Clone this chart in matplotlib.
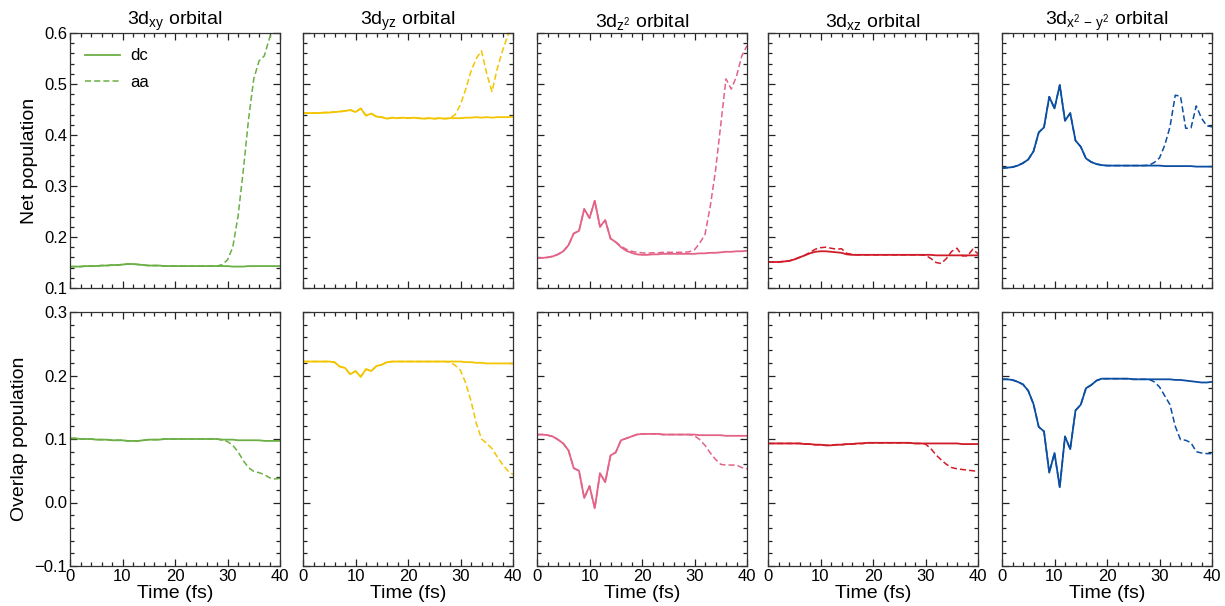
import numpy as np
import matplotlib
matplotlib.use("Agg")
import matplotlib.pyplot as plt
from matplotlib.ticker import MultipleLocator

plt.rcParams['font.family'] = ['Liberation Sans', 'DejaVu Sans']
plt.rcParams['mathtext.fontset'] = 'custom'
plt.rcParams['mathtext.rm'] = 'Liberation Sans'
plt.rcParams['mathtext.it'] = 'Liberation Sans'
plt.rcParams['mathtext.default'] = 'regular'

time_fs = list(range(0, 41))

titles = [r'3d$_{xy}$ orbital', r'3d$_{yz}$ orbital', r'3d$_{z^2}$ orbital',
          r'3d$_{xz}$ orbital', r'3d$_{x^2\,-\,y^2}$ orbital']
colors = ['#6BAF45', '#F2C500', '#E36387', '#D01C28', '#0B4EA2']

# ---- Net population (top row) ----
net_xy_dc = [0.142, 0.142, 0.142, 0.143, 0.143, 0.143, 0.144, 0.144, 0.145, 0.145,
             0.146, 0.147, 0.147, 0.146, 0.145, 0.144, 0.144, 0.144, 0.143, 0.143,
             0.143, 0.143, 0.143, 0.143, 0.143, 0.143, 0.143, 0.143, 0.143, 0.143,
             0.143, 0.142, 0.142, 0.142, 0.143, 0.143, 0.143, 0.143, 0.143, 0.143, 0.143]
net_xy_aa = [0.142, 0.142, 0.142, 0.143, 0.143, 0.143, 0.144, 0.144, 0.145, 0.145,
             0.146, 0.147, 0.147, 0.146, 0.145, 0.144, 0.144, 0.144, 0.143, 0.143,
             0.143, 0.143, 0.143, 0.143, 0.143, 0.143, 0.143, 0.143, 0.143, 0.146,
             0.155, 0.180, 0.240, 0.330, 0.430, 0.510, 0.545, 0.555, 0.590, 0.620, 0.650]

net_yz_dc = [0.443, 0.443, 0.443, 0.443, 0.444, 0.444, 0.445, 0.446, 0.447, 0.449,
             0.445, 0.452, 0.438, 0.442, 0.436, 0.435, 0.432, 0.434, 0.433, 0.434,
             0.433, 0.434, 0.433, 0.432, 0.433, 0.432, 0.433, 0.432, 0.433, 0.433,
             0.433, 0.434, 0.434, 0.435, 0.434, 0.435, 0.434, 0.435, 0.435, 0.435, 0.436]
net_yz_aa = [0.443, 0.443, 0.443, 0.443, 0.444, 0.444, 0.445, 0.446, 0.447, 0.449,
             0.445, 0.452, 0.438, 0.442, 0.436, 0.435, 0.432, 0.434, 0.433, 0.434,
             0.433, 0.434, 0.433, 0.432, 0.433, 0.432, 0.433, 0.432, 0.433, 0.440,
             0.460, 0.490, 0.525, 0.550, 0.565, 0.520, 0.485, 0.530, 0.565, 0.595, 0.610]

net_z2_dc = [0.159, 0.159, 0.160, 0.162, 0.166, 0.172, 0.184, 0.207, 0.212, 0.255,
             0.237, 0.271, 0.220, 0.233, 0.197, 0.190, 0.180, 0.173, 0.169, 0.166,
             0.165, 0.165, 0.166, 0.166, 0.167, 0.167, 0.167, 0.167, 0.167, 0.167,
             0.167, 0.168, 0.168, 0.169, 0.169, 0.170, 0.171, 0.171, 0.172, 0.172, 0.173]
net_z2_aa = [0.159, 0.159, 0.160, 0.162, 0.166, 0.172, 0.184, 0.207, 0.212, 0.255,
             0.237, 0.271, 0.220, 0.233, 0.197, 0.190, 0.182, 0.176, 0.172, 0.170,
             0.169, 0.168, 0.169, 0.169, 0.170, 0.170, 0.170, 0.170, 0.170, 0.171,
             0.175, 0.188, 0.205, 0.260, 0.330, 0.420, 0.510, 0.490, 0.515, 0.555, 0.575]

net_xz_dc = [0.151, 0.151, 0.151, 0.152, 0.153, 0.156, 0.160, 0.164, 0.168, 0.171,
             0.172, 0.172, 0.171, 0.170, 0.169, 0.166, 0.165, 0.165, 0.165, 0.165,
             0.165, 0.165, 0.165, 0.165, 0.165, 0.165, 0.165, 0.165, 0.165, 0.165,
             0.165, 0.165, 0.164, 0.164, 0.164, 0.164, 0.164, 0.164, 0.164, 0.164, 0.164]
net_xz_aa = [0.151, 0.151, 0.151, 0.152, 0.153, 0.156, 0.160, 0.164, 0.170, 0.176,
             0.179, 0.180, 0.178, 0.176, 0.177, 0.168, 0.166, 0.165, 0.165, 0.165,
             0.165, 0.165, 0.165, 0.165, 0.165, 0.165, 0.165, 0.165, 0.165, 0.165,
             0.164, 0.158, 0.150, 0.148, 0.158, 0.172, 0.178, 0.163, 0.163, 0.176, 0.167]

net_x2y2_dc = [0.335, 0.336, 0.337, 0.340, 0.345, 0.352, 0.368, 0.405, 0.415, 0.475,
               0.452, 0.498, 0.428, 0.443, 0.389, 0.377, 0.354, 0.347, 0.343, 0.341,
               0.340, 0.340, 0.340, 0.340, 0.340, 0.340, 0.340, 0.340, 0.340, 0.340,
               0.340, 0.339, 0.339, 0.339, 0.339, 0.339, 0.339, 0.338, 0.338, 0.338, 0.338]
net_x2y2_aa = [0.335, 0.336, 0.337, 0.340, 0.345, 0.352, 0.368, 0.405, 0.415, 0.475,
               0.452, 0.498, 0.428, 0.443, 0.389, 0.377, 0.354, 0.347, 0.343, 0.341,
               0.340, 0.340, 0.340, 0.340, 0.340, 0.340, 0.340, 0.340, 0.341, 0.346,
               0.355, 0.380, 0.416, 0.478, 0.476, 0.413, 0.414, 0.457, 0.433, 0.418, 0.416]

# ---- Overlap population (bottom row) ----
ov_xy_dc = [0.101, 0.101, 0.100, 0.100, 0.100, 0.099, 0.099, 0.099, 0.098, 0.098,
            0.098, 0.097, 0.097, 0.097, 0.098, 0.099, 0.099, 0.099, 0.100, 0.100,
            0.100, 0.100, 0.100, 0.100, 0.100, 0.100, 0.100, 0.100, 0.100, 0.099,
            0.099, 0.099, 0.098, 0.098, 0.098, 0.098, 0.098, 0.097, 0.097, 0.097, 0.097]
ov_xy_aa = [0.101, 0.101, 0.100, 0.100, 0.100, 0.099, 0.099, 0.099, 0.098, 0.098,
            0.098, 0.097, 0.097, 0.097, 0.098, 0.099, 0.099, 0.099, 0.100, 0.100,
            0.100, 0.100, 0.100, 0.100, 0.100, 0.100, 0.100, 0.100, 0.100, 0.098,
            0.096, 0.090, 0.080, 0.066, 0.055, 0.049, 0.047, 0.044, 0.039, 0.037, 0.038]

ov_yz_dc = [0.222, 0.222, 0.222, 0.222, 0.222, 0.222, 0.221, 0.214, 0.212, 0.202,
            0.207, 0.198, 0.210, 0.207, 0.215, 0.217, 0.221, 0.222, 0.222, 0.222,
            0.222, 0.222, 0.222, 0.222, 0.222, 0.222, 0.222, 0.222, 0.222, 0.222,
            0.222, 0.221, 0.221, 0.220, 0.220, 0.219, 0.219, 0.219, 0.219, 0.219, 0.219]
ov_yz_aa = [0.222, 0.222, 0.222, 0.222, 0.222, 0.222, 0.221, 0.214, 0.212, 0.202,
            0.207, 0.198, 0.210, 0.207, 0.215, 0.217, 0.221, 0.222, 0.222, 0.222,
            0.222, 0.222, 0.222, 0.222, 0.222, 0.222, 0.222, 0.222, 0.221, 0.216,
            0.208, 0.188, 0.160, 0.125, 0.100, 0.093, 0.085, 0.072, 0.060, 0.050, 0.044]

ov_z2_dc = [0.107, 0.107, 0.106, 0.104, 0.099, 0.093, 0.082, 0.054, 0.050, 0.007,
            0.026, -0.009, 0.046, 0.032, 0.074, 0.079, 0.098, 0.101, 0.104, 0.107,
            0.108, 0.108, 0.108, 0.108, 0.107, 0.107, 0.107, 0.107, 0.107, 0.107,
            0.107, 0.106, 0.106, 0.106, 0.106, 0.106, 0.105, 0.105, 0.105, 0.105, 0.105]
ov_z2_aa = [0.107, 0.107, 0.106, 0.104, 0.099, 0.093, 0.082, 0.054, 0.050, 0.007,
            0.026, -0.009, 0.046, 0.032, 0.074, 0.079, 0.098, 0.101, 0.104, 0.107,
            0.108, 0.108, 0.108, 0.108, 0.107, 0.107, 0.107, 0.107, 0.107, 0.107,
            0.105, 0.099, 0.090, 0.078, 0.068, 0.060, 0.059, 0.059, 0.059, 0.055, 0.053]

ov_xz_dc = [0.093, 0.093, 0.093, 0.093, 0.093, 0.093, 0.093, 0.092, 0.092, 0.091,
            0.091, 0.090, 0.090, 0.091, 0.091, 0.092, 0.092, 0.093, 0.093, 0.094,
            0.094, 0.094, 0.094, 0.094, 0.094, 0.094, 0.094, 0.094, 0.093, 0.093,
            0.093, 0.093, 0.093, 0.093, 0.093, 0.093, 0.093, 0.092, 0.092, 0.092, 0.092]
ov_xz_aa = [0.093, 0.093, 0.093, 0.093, 0.093, 0.093, 0.093, 0.092, 0.092, 0.091,
            0.091, 0.090, 0.090, 0.091, 0.091, 0.092, 0.092, 0.093, 0.093, 0.094,
            0.094, 0.094, 0.094, 0.094, 0.094, 0.094, 0.094, 0.094, 0.093, 0.093,
            0.092, 0.085, 0.075, 0.067, 0.060, 0.055, 0.053, 0.052, 0.051, 0.050, 0.049]

ov_x2y2_dc = [0.194, 0.194, 0.193, 0.190, 0.186, 0.176, 0.155, 0.119, 0.112, 0.047,
              0.078, 0.024, 0.104, 0.084, 0.145, 0.154, 0.180, 0.185, 0.192, 0.195,
              0.195, 0.195, 0.195, 0.195, 0.195, 0.194, 0.194, 0.194, 0.194, 0.194,
              0.194, 0.194, 0.194, 0.193, 0.193, 0.192, 0.191, 0.190, 0.189, 0.189, 0.190]
ov_x2y2_aa = [0.194, 0.194, 0.193, 0.190, 0.186, 0.176, 0.155, 0.119, 0.112, 0.047,
              0.078, 0.024, 0.104, 0.084, 0.145, 0.154, 0.180, 0.185, 0.192, 0.195,
              0.195, 0.195, 0.195, 0.195, 0.195, 0.194, 0.194, 0.194, 0.194, 0.190,
              0.182, 0.168, 0.154, 0.120, 0.099, 0.098, 0.094, 0.080, 0.078, 0.077, 0.077]

net_dc = [net_xy_dc, net_yz_dc, net_z2_dc, net_xz_dc, net_x2y2_dc]
net_aa = [net_xy_aa, net_yz_aa, net_z2_aa, net_xz_aa, net_x2y2_aa]
ov_dc = [ov_xy_dc, ov_yz_dc, ov_z2_dc, ov_xz_dc, ov_x2y2_dc]
ov_aa = [ov_xy_aa, ov_yz_aa, ov_z2_aa, ov_xz_aa, ov_x2y2_aa]

W, H = 1225, 606
fig = plt.figure(figsize=(W / 100, H / 100), dpi=100)

lefts = [70, 303, 537, 768, 1002]
aw = 210
top_row = (33, 288)
bot_row = (312, 566)

def style(ax, ymin, ymax):
    ax.set_xlim(0, 40)
    ax.set_ylim(ymin, ymax)
    ax.xaxis.set_major_locator(MultipleLocator(10))
    ax.xaxis.set_minor_locator(MultipleLocator(2))
    ax.yaxis.set_major_locator(MultipleLocator(0.1))
    ax.yaxis.set_minor_locator(MultipleLocator(0.02))
    ax.tick_params(which='both', direction='in', top=True, right=True,
                   labelsize=12, pad=2, width=0.9, colors='#222222',
                   labelcolor='black')
    ax.tick_params(which='major', length=5)
    ax.tick_params(which='minor', length=3)
    for s in ax.spines.values():
        s.set_linewidth(0.9)
        s.set_color('#333333')

for i in range(5):
    x0 = lefts[i] / W
    w = aw / W
    # top
    axt = fig.add_axes([x0, 1 - top_row[1] / H, w, (top_row[1] - top_row[0]) / H])
    axt.plot(time_fs, net_dc[i], color=colors[i], lw=1.3, label='dc')
    axt.plot(time_fs, net_aa[i], color=colors[i], lw=1.1, ls=(0, (4, 2)), label='aa')
    style(axt, 0.1, 0.6)
    axt.set_title(titles[i], fontsize=14, pad=4)
    axt.set_yticks([0.1, 0.2, 0.3, 0.4, 0.5, 0.6])
    axt.yaxis.set_major_formatter(plt.FuncFormatter(lambda v, p: f'{v:.1f}'))
    axt.tick_params(labelbottom=False)
    if i == 0:
        axt.set_ylabel('Net population', fontsize=14)
        axt.yaxis.set_label_coords(-0.152, 0.5)
        axt.legend(loc='upper left', frameon=False, fontsize=12,
                   handlelength=2.1, handletextpad=0.6, borderaxespad=0.3,
                   labelspacing=0.7, bbox_to_anchor=(0.015, 0.985))
    else:
        axt.tick_params(labelleft=False)
    # bottom
    axb = fig.add_axes([x0, 1 - bot_row[1] / H, w, (bot_row[1] - bot_row[0]) / H])
    axb.plot(time_fs, ov_dc[i], color=colors[i], lw=1.3)
    axb.plot(time_fs, ov_aa[i], color=colors[i], lw=1.1, ls=(0, (4, 2)))
    style(axb, -0.1, 0.3)
    axb.set_yticks([-0.1, 0.0, 0.1, 0.2, 0.3])
    axb.yaxis.set_major_formatter(plt.FuncFormatter(lambda v, p: f'{v:.1f}'.replace('-', '\u2212')))
    axb.set_xlabel('Time (fs)', fontsize=14, labelpad=1)
    if i == 0:
        axb.set_ylabel('Overlap population', fontsize=14)
        axb.yaxis.set_label_coords(-0.2, 0.5)
    else:
        axb.tick_params(labelleft=False)

fig.savefig('out.png', dpi=100)
